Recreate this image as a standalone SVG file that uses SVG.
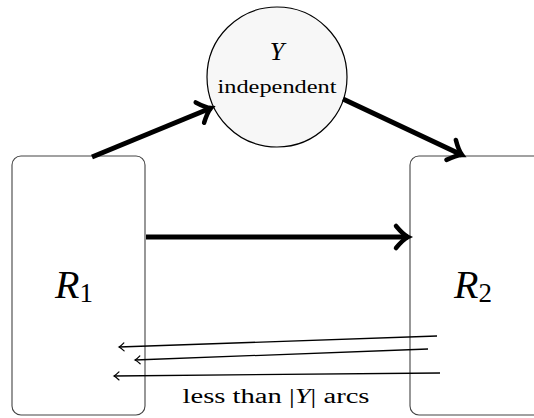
<svg xmlns="http://www.w3.org/2000/svg" width="534" height="418" viewBox="0 0 534 418">
<style>
.box{fill:#fff;stroke:#444;stroke-width:1.1}
.thick{fill:none;stroke:#000;stroke-width:5}
.thin{fill:none;stroke:#000;stroke-width:1.3}
</style>
<defs>
<marker id="big" markerUnits="userSpaceOnUse" orient="auto" refX="0" refY="0" markerWidth="40" markerHeight="40" viewBox="-20 -20 40 40" overflow="visible">
<path d="M -12 -11 C -7 -5 -3 -1.5 0 0 C -3 1.5 -7 5 -12 11" fill="none" stroke="#000" stroke-width="4.5" stroke-linecap="round"/>
</marker>
<marker id="small" markerUnits="userSpaceOnUse" orient="auto" refX="0" refY="0" markerWidth="20" markerHeight="20" viewBox="-10 -10 20 20" overflow="visible">
<path d="M -5 -4 C -3 -2 -1 -0.5 0 0 C -1 0.5 -3 2 -5 4" fill="none" stroke="#000" stroke-width="1.2" stroke-linecap="round"/>
</marker>
</defs>
<g id="R1">
<rect class="box" x="12" y="156" width="133" height="259" rx="9"/>
<text x="55" y="298" font-family="Liberation Serif, serif" font-size="40" fill="#000"><tspan font-style="italic">R</tspan><tspan font-size="27" dy="4">1</tspan></text>
</g>
<g id="R2">
<rect class="box" x="410" y="156" width="140" height="259" rx="9"/>
<text x="454" y="298" font-family="Liberation Serif, serif" font-size="40" fill="#000"><tspan font-style="italic">R</tspan><tspan font-size="27" dy="4">2</tspan></text>
</g>
<g id="Y">
<circle cx="277" cy="77" r="70" fill="#f7f7f7" stroke="#000" stroke-width="1.2"/>
<text x="277" y="60" font-family="Liberation Serif, serif" font-style="italic" font-size="26" text-anchor="middle" fill="#000">Y</text>
<text x="277" y="93" font-family="Liberation Serif, serif" font-size="19" text-anchor="middle" textLength="119" lengthAdjust="spacingAndGlyphs" fill="#000">independent</text>
</g>
<g id="connectors">
<line class="thick" x1="92" y1="157" x2="211" y2="108" marker-end="url(#big)"/>
<line class="thick" x1="343" y1="99" x2="462" y2="155" marker-end="url(#big)"/>
<line class="thick" x1="146" y1="237" x2="408" y2="237" marker-end="url(#big)"/>
<line class="thin" x1="437" y1="336" x2="119" y2="347" marker-end="url(#small)"/>
<line class="thin" x1="428" y1="349" x2="135" y2="360" marker-end="url(#small)"/>
<line class="thin" x1="440" y1="373" x2="114" y2="376" marker-end="url(#small)"/>
</g>
<text x="276" y="403" font-family="Liberation Serif, serif" font-size="20" text-anchor="middle" textLength="187" lengthAdjust="spacingAndGlyphs" fill="#000">less than |<tspan font-style="italic">Y</tspan>| arcs</text>
</svg>
